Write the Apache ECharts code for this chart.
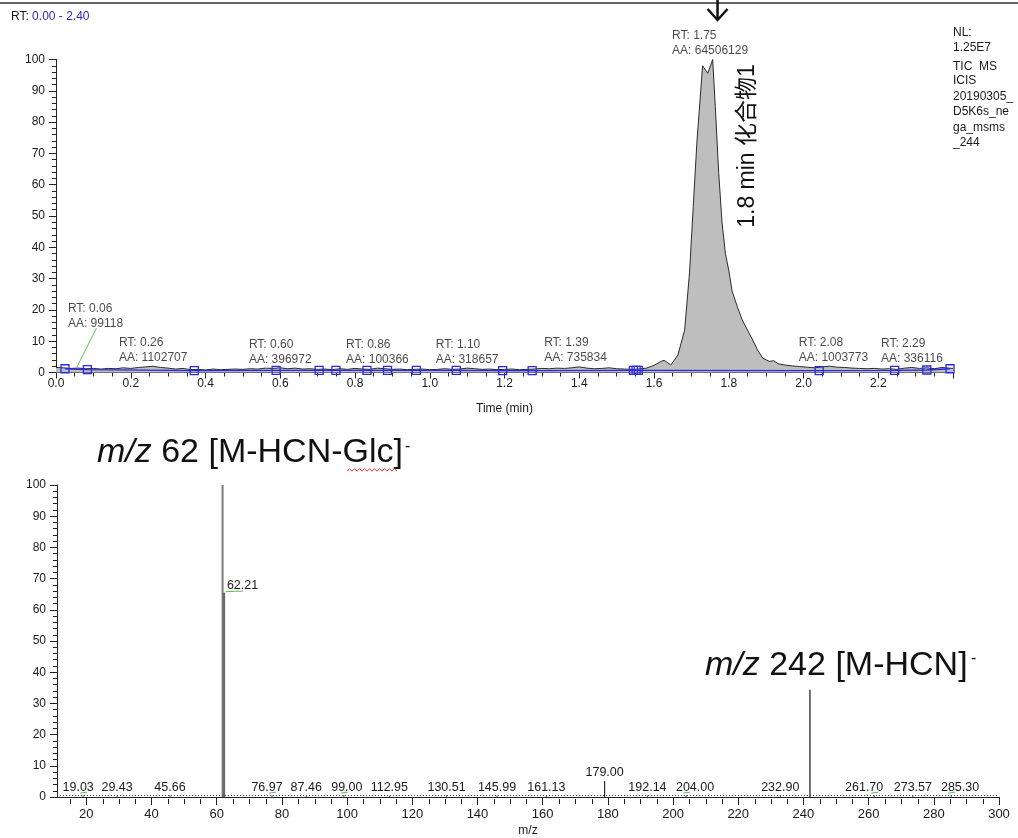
<!DOCTYPE html>
<html><head><meta charset="utf-8">
<script src="https://cdn.jsdelivr.net/npm/echarts@6/dist/echarts.min.js"></script>
<style>html,body{margin:0;padding:0;background:#fff}#c{width:1018px;height:838px}</style>
</head><body><div id="c"></div>
<script>
const FONT = '"Liberation Sans", Arial, sans-serif';

// ---------- Top: TIC chromatogram (relative abundance %) ----------
const ticTime = [0.00,0.02,0.04,0.06,0.08,0.10,0.12,0.14,0.16,0.18,0.20,0.22,0.24,0.26,0.28,0.30,0.32,0.34,0.36,0.38,
  0.40,0.42,0.44,0.46,0.48,0.50,0.52,0.54,0.56,0.58,0.60,0.62,0.64,0.66,0.68,0.70,0.72,0.74,0.76,0.78,
  0.80,0.82,0.84,0.86,0.88,0.90,0.92,0.94,0.96,0.98,1.00,1.02,1.04,1.06,1.08,1.10,1.12,1.14,1.16,1.18,
  1.20,1.22,1.24,1.26,1.28,1.30,1.32,1.34,1.36,1.38,1.40,1.42,1.44,1.46,1.48,1.50,1.52,1.54,1.56,1.58,
  1.60,1.618,1.627,1.645,1.664,1.682,1.695,1.705,1.715,1.725,1.730,1.744,1.757,1.764,1.773,1.782,1.791,1.800,1.809,1.823,
  1.836,1.850,1.864,1.877,1.891,1.909,1.920,1.932,1.95,1.97,1.99,2.01,2.03,2.05,2.07,2.09,2.11,2.13,2.15,2.17,
  2.19,2.21,2.23,2.25,2.27,2.29,2.31,2.33,2.35,2.37,2.39,2.40];
const ticIntensity = [1.6,1.5,1.3,1.4,1.2,1.3,1.1,1.3,1.2,1.5,1.3,1.6,1.8,2.0,1.6,1.4,1.1,1.3,0.9,1.0,
  0.8,1.1,0.9,1.0,1.1,1.0,1.2,1.1,1.4,1.3,1.5,1.2,1.4,1.1,1.2,1.0,1.1,0.9,1.2,1.0,
  1.3,1.1,1.0,1.4,1.2,1.0,1.1,0.9,1.0,1.1,0.9,1.0,1.2,1.0,1.1,1.4,1.2,1.0,1.1,0.9,
  1.0,1.1,0.9,1.0,1.1,1.3,1.2,1.4,1.3,1.5,1.8,1.4,1.2,1.3,1.5,1.2,1.1,1.0,1.1,1.4,
  2.3,3.5,3.9,2.4,5.6,13.6,31.8,53,74,90,98,95.6,100,85,64,48,38,32.7,26,21,
  16.8,13.6,10.4,7.2,4.6,3.5,3.8,2.8,2.4,2.1,1.9,1.7,1.5,1.8,2.0,1.7,1.6,1.4,1.3,1.2,
  1.3,1.1,1.2,1.0,1.4,1.6,1.3,1.5,1.2,1.6,1.4,1.3];
// ICIS baseline with integration boundary markers
const baseTime = [0.024,0.084,0.370,0.589,0.704,0.749,0.832,0.887,0.964,1.071,1.195,1.274,1.545,1.552,1.558,2.042,2.244,2.330,2.392];
const baseLevel = [1.2,0.9,0.6,0.7,0.7,0.7,0.7,0.7,0.7,0.7,0.6,0.6,0.7,0.7,0.7,0.6,0.7,0.8,1.2];
// peak annotations
const peakRT = [0.06,0.26,0.60,0.86,1.10,1.39,1.75,2.08,2.29];
const peakRTLabel = ['0.06','0.26','0.60','0.86','1.10','1.39','1.75','2.08','2.29'];
const peakArea = ['99118','1102707','396972','100366','318657','735834','64506129','1003773','336116'];
const peakApex = [1.4,1.9,1.3,1.3,1.3,1.9,100,2.0,1.8];
const nlLines = ['NL:','1.25E7','TIC  MS','ICIS','20190305_','D5K6s_ne','ga_msms','_244'];

// ---------- Bottom: MS/MS spectrum ----------
const mzValues = [19.03,29.43,45.66,61.80,62.21,76.97,87.46,99.00,112.95,130.51,145.99,161.13,179.00,192.14,204.00,232.90,242.00,261.70,273.57,285.30];
const mzIntensity = [0.6,0.5,0.6,100,65.5,0.6,0.5,0.6,0.5,0.5,0.5,0.6,5.1,0.5,0.6,0.6,34.4,0.6,0.5,0.6];
const mzLabel = ['19.03','29.43','45.66','','62.21','76.97','87.46','99.00','112.95','130.51','145.99','161.13','179.00','192.14','204.00','232.90','','261.70','273.57','285.30'];
const mzTicks = [20,40,60,80,100,120,140,160,180,200,220,240,260,280,300];
const MZ_MIN = 11, MZ_MAX = 300;

// label nudges (px) and green connector marks, as in the original software output
const labelShift = {'19.03':-5,'76.97':-5,'99.00':3,'204.00':9,'261.70':-10,'285.30':9};
const greenMark = {'19.03':1,'76.97':1,'99.00':1,'204.00':1,'261.70':1,'285.30':1};

const chart = echarts.init(document.getElementById('c'), null, {renderer:'canvas'});
const mctx = document.createElement('canvas').getContext('2d');
mctx.font = '12px "Liberation Sans"';

const axisCommon = {
  axisLine:{show:true, lineStyle:{color:'#222', width:1}},
  splitLine:{show:false},
};

const labelData = peakRT.map((rt,i)=>{
  const w = mctx.measureText('AA: ' + peakArea[i]).width;
  const off = i === 0 ? [-10.5, -36] : [-w/2, 0];
  return {value:[rt, peakApex[i]], label:{formatter:'RT: ' + peakRTLabel[i] + '\nAA: ' + peakArea[i], offset:off}};
});

const G2 = {left:57, top:485, width:942, height:314};

const option = {
  animation:false,
  backgroundColor:'#fff',
  textStyle:{fontFamily:FONT},
  grid:[
    {left:56, top:59.5, width:897, height:313},
    G2
  ],
  xAxis:[
    Object.assign({}, axisCommon, {
      type:'value', gridIndex:0, min:0, max:2.4, interval:0.2,
      name:'Time (min)', nameLocation:'middle', nameGap:30,
      nameTextStyle:{color:'#1a1a1a', fontSize:12, fontFamily:FONT},
      axisTick:{show:true, length:6, lineStyle:{color:'#222'}},
      minorTick:{show:true, splitNumber:4, length:4, lineStyle:{color:'#222'}},
      axisLabel:{color:'#1a1a1a', fontSize:12, fontFamily:FONT, margin:5, showMaxLabel:false,
        formatter:v=>v.toFixed(1)}
    }),
    Object.assign({}, axisCommon, {
      type:'value', gridIndex:1, min:MZ_MIN, max:MZ_MAX, position:'bottom',
      name:'m/z', nameLocation:'middle', nameGap:28,
      nameTextStyle:{color:'#1a1a1a', fontSize:12, fontFamily:FONT},
      axisTick:{show:true, length:8, customValues:mzTicks, lineStyle:{color:'#222'}},
      axisLabel:{color:'#1a1a1a', fontSize:13, fontFamily:FONT, margin:11, customValues:mzTicks}
    })
  ],
  yAxis:[
    Object.assign({}, axisCommon, {
      type:'value', gridIndex:0, min:0, max:100, interval:10,
      axisTick:{show:true, length:7, lineStyle:{color:'#222'}},
      minorTick:{show:true, splitNumber:5, length:4, lineStyle:{color:'#222'}},
      axisLabel:{color:'#1a1a1a', fontSize:12, fontFamily:FONT, margin:11}
    }),
    Object.assign({}, axisCommon, {
      type:'value', gridIndex:1, min:0, max:100, interval:10,
      axisTick:{show:true, length:7, lineStyle:{color:'#222'}},
      minorTick:{show:true, splitNumber:5, length:4, lineStyle:{color:'#222'}},
      axisLabel:{color:'#1a1a1a', fontSize:12, fontFamily:FONT, margin:11}
    })
  ],
  series:[
    {
      type:'line', xAxisIndex:0, yAxisIndex:0, showSymbol:false, symbol:'none',
      data: ticTime.map((t,i)=>[t, ticIntensity[i]]),
      lineStyle:{color:'#2b2b2b', width:1},
      areaStyle:{color:'#bebebe', opacity:1},
      z:2
    },
    {
      type:'line', xAxisIndex:0, yAxisIndex:0,
      data: baseTime.map((t,i)=>[t, baseLevel[i]]),
      symbol:'rect', symbolSize:[8,8], showSymbol:true,
      lineStyle:{color:'#2a2ae6', width:1.3},
      itemStyle:{color:'rgba(255,255,255,0)', borderColor:'#2a2ae6', borderWidth:1.3},
      z:4
    },
    {
      type:'scatter', xAxisIndex:0, yAxisIndex:0, symbolSize:0,
      data: labelData,
      label:{show:true, position:'top', distance:1, align:'left', color:'#1a1a1a',
        fontSize:12, fontFamily:FONT, lineHeight:15},
      z:5
    },
    {
      type:'custom', xAxisIndex:1, yAxisIndex:1,
      data: mzValues.map((m,i)=>[m, mzIntensity[i]]),
      renderItem:(params, api)=>{
        const i = params.dataIndex;
        const m = api.value(0), v = api.value(1);
        const p0 = api.coord([m,0]), p1 = api.coord([m,v]);
        let col = '#444', lw = 1;
        if (v > 90) { col = '#7c7c7c'; lw = 2; }
        else if (v > 50) { col = '#6a6a6a'; lw = 2.5; }
        else if (v > 20) { col = '#2a2a2a'; lw = 1.3; }
        else if (v > 3) { col = '#2a2a2a'; lw = 1.2; }
        const ch = [{type:'line', shape:{x1:p0[0],y1:p0[1],x2:p1[0],y2:p1[1]}, style:{stroke:col, lineWidth:lw}}];
        const lab = mzLabel[i];
        if (lab) {
          const f = '12.5px "Liberation Sans", Arial, sans-serif';
          if (v > 50) {
            ch.push({type:'text', style:{text:lab, x:p1[0]+3, y:p1[1]-1, align:'left', verticalAlign:'bottom', font:f, fill:'#1a1a1a'}});
            ch.push({type:'line', shape:{x1:p1[0]+2, y1:p1[1]-1, x2:p1[0]+19, y2:p1[1]-1.5}, style:{stroke:'#5cbf5c', lineWidth:1}});
          } else {
            const dx = labelShift[lab] || 0;
            const yb = p1[1] - (v > 3 ? 2 : 1);
            ch.push({type:'text', style:{text:lab, x:p1[0]+dx, y:yb, align:'center', verticalAlign:'bottom', font:f, fill:'#1a1a1a'}});
            if (greenMark[lab]) {
              ch.push({type:'line', shape:{x1:p1[0]-3, y1:yb-1, x2:p1[0]+4, y2:yb-2}, style:{stroke:'#5cbf5c', lineWidth:1}});
            }
          }
        }
        return {type:'group', children:ch};
      },
      markLine:{
        silent:true, symbol:'none', label:{show:false},
        lineStyle:{color:'#444', width:1, type:[1,2]},
        data:[{yAxis:0.6}]
      },
      z:3
    }
  ]
};
chart.setOption(option);

// ----- decorations and annotations -----
const g = [];
g.push({type:'line', shape:{x1:0,y1:3,x2:1018,y2:3}, style:{stroke:'#333', lineWidth:1.5}});
// minor ticks (every 5 m/z) on the spectrum axis, placed on the axis' linear scale
const axisY = G2.top + G2.height;
for (let v = 15; v < MZ_MAX; v += 5) {
  if (v % 20 === 0) continue;
  const x = Math.round(G2.left + (v - MZ_MIN) / (MZ_MAX - MZ_MIN) * G2.width) + 0.5;
  g.push({type:'line', z:100, shape:{x1:x, y1:axisY, x2:x, y2:axisY + 5}, style:{stroke:'#222', lineWidth:1}});
}
// arrow marking the target peak
const ap = chart.convertToPixel({gridIndex:0}, [1.77, 100]);
g.push({type:'line', shape:{x1:ap[0], y1:0, x2:ap[0], y2:19}, style:{stroke:'#111', lineWidth:2.5}});
g.push({type:'polyline', shape:{points:[[ap[0]-10,9],[ap[0],20],[ap[0]+10,9]]}, style:{stroke:'#111', lineWidth:2.5, fill:null}});
g.push({type:'text', x:11, y:17, style:{
  text:'{a|RT: }{b|0.00 - 2.40}', verticalAlign:'middle',
  rich:{a:{fill:'#1a1a1a', fontSize:12, fontFamily:FONT}, b:{fill:'#2b2bb0', fontSize:12, fontFamily:FONT}}
}});
const nlY = [33,48,67,81,97,112,128,143];
nlLines.forEach((t,i)=>g.push({type:'text', x:953, y:nlY[i], style:{text:t, fill:'#1a1a1a', font:'12px ' + FONT, verticalAlign:'middle'}}));
// vertical compound annotation
g.push({type:'text', x:748, y:146, rotation:Math.PI/2, style:{
  text:'1.8 min 化合物1', fill:'#111', font:'23px "Liberation Sans", "Noto Sans CJK SC", sans-serif',
  align:'center', verticalAlign:'middle'
}});
// leader line for RT 0.06 label
const lp = chart.convertToPixel({gridIndex:0}, [peakRT[0], peakApex[0]]);
g.push({type:'line', shape:{x1:lp[0]-1.5, y1:lp[1]-1, x2:lp[0]+18, y2:lp[1]-40}, style:{stroke:'#5cbf5c', lineWidth:1}});
// fragment titles
const titleRich = {
  i:{fontStyle:'italic', fontSize:34, fontFamily:FONT, fill:'#111'},
  n:{fontSize:34, fontFamily:FONT, fill:'#111'}
};
g.push({type:'text', x:97, y:453, style:{text:'{i|m/z}{n| 62 [M-HCN-Glc]}', verticalAlign:'middle', rich:titleRich}});
g.push({type:'text', x:405, y:447, style:{text:'-', font:'16px ' + FONT, fill:'#111', verticalAlign:'middle'}});
g.push({type:'text', x:705, y:666, style:{text:'{i|m/z}{n| 242 [M-HCN]}', verticalAlign:'middle', rich:titleRich}});
g.push({type:'text', x:971, y:659, style:{text:'-', font:'16px ' + FONT, fill:'#111', verticalAlign:'middle'}});
// red spell-check squiggle under "Glc"
const sq = [];
for (let x = 347, k = 0; x <= 397; x += 2.5, k++) sq.push([x, 470 + (k % 2 ? -1.2 : 1.2)]);
g.push({type:'polyline', shape:{points:sq}, style:{stroke:'#e03030', lineWidth:1, fill:null}});

chart.setOption({graphic:g});
</script>
</body></html>
